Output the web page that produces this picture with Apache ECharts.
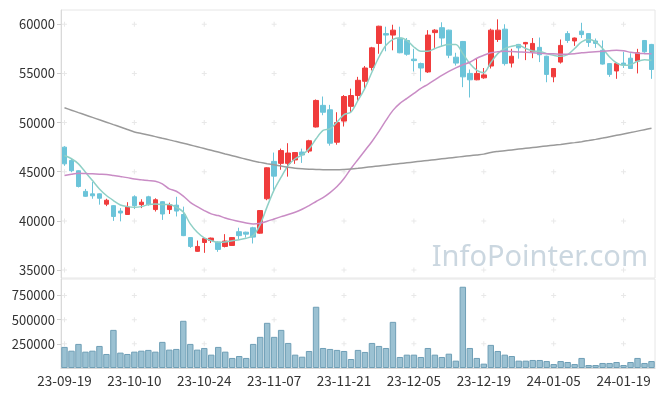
<!DOCTYPE html>
<html><head><meta charset="utf-8">
<script src="https://cdn.jsdelivr.net/npm/echarts@6/dist/echarts.min.js"></script>
<style>html,body{margin:0;padding:0;background:#fff}#c{width:665px;height:396px}</style>
</head><body><div id="c"></div>
<script>
const dates = ["23-09-19","23-09-20","23-09-21","23-09-22","23-09-25","23-09-26","23-09-27",
"23-10-04","23-10-05","23-10-06","23-10-10","23-10-11","23-10-12","23-10-13","23-10-16","23-10-17","23-10-18","23-10-19","23-10-20","23-10-23","23-10-24","23-10-25","23-10-26","23-10-27","23-10-30","23-10-31",
"23-11-01","23-11-02","23-11-03","23-11-06","23-11-07","23-11-08","23-11-09","23-11-10","23-11-13","23-11-14","23-11-15","23-11-16","23-11-17","23-11-20","23-11-21","23-11-22","23-11-23","23-11-24","23-11-27","23-11-28","23-11-29","23-11-30",
"23-12-01","23-12-04","23-12-05","23-12-06","23-12-07","23-12-08","23-12-11","23-12-12","23-12-13","23-12-14","23-12-15","23-12-18","23-12-19","23-12-20","23-12-21","23-12-22","23-12-26","23-12-27","23-12-28",
"24-01-02","24-01-03","24-01-04","24-01-05","24-01-08","24-01-09","24-01-10","24-01-11","24-01-12","24-01-15","24-01-16","24-01-17","24-01-18","24-01-19","24-01-22","24-01-23","24-01-24","24-01-25"];
const opens = [47500,46150,45100,43000,42750,42750,41700,41550,41000,40650,42450,41650,42450,41150,41950,41150,41600,40650,38300,36900,37800,38000,37850,37400,37500,38900,38850,39300,38750,42250,46050,45850,45850,46200,47000,47100,49550,51750,51300,48000,50150,51650,52750,54200,55600,58050,59050,58900,58600,58350,56450,56000,55150,59150,59650,59400,56650,58250,55000,54350,54550,55750,58450,59500,56050,57950,58000,57200,57650,56750,54650,56150,59050,58300,59300,59050,58300,57350,56000,55250,56050,56550,56250,58350,57950];
const closes = [45800,45100,43500,42500,42550,42300,42100,40450,40800,41400,41550,41900,41650,42150,40700,41650,41000,38500,37400,37400,38200,38250,37100,37950,38300,38500,38650,38350,41050,45400,44550,47150,46900,46950,46700,48150,52250,51050,47900,50000,52650,52750,54300,55550,57600,59800,58900,59400,57100,56950,56300,55550,58900,59400,58600,56850,56050,54650,54350,55000,54850,59400,59400,56000,56750,57600,58150,58050,56900,54900,55500,57850,58350,58600,58950,58150,58050,55950,54900,56000,55850,55500,57100,57200,55400];
const highs = [47600,46400,45150,43250,43950,42800,42250,41600,41300,41900,42600,42200,42550,42300,42000,41850,42450,41450,38350,38000,38250,38300,37900,38650,38350,39300,38900,39400,41100,45450,46950,47350,47900,47000,47350,48250,52350,52650,51800,51050,52800,53450,54650,55750,57700,59850,59750,59950,59750,58600,57500,56100,59400,59500,60200,59450,57100,58300,55400,56550,55550,59550,60500,60000,57500,58000,58200,58600,58650,56800,55550,58450,59300,58650,60150,59100,58550,58350,56050,56150,57200,57050,57500,58400,58000];
const lows = [45600,44950,43400,42450,42250,41650,41500,40000,39950,40600,41200,41300,41550,40950,40100,40700,40450,38450,37250,36850,36750,37750,36850,37300,37450,38150,38300,37700,38700,42100,43100,45200,44500,45800,45900,46900,49500,50750,47650,47750,49600,51050,52200,53450,55300,57000,57250,57350,57050,56800,55200,54200,55050,57600,57700,56550,55800,53600,52550,54300,54450,55500,58200,55800,55600,56500,56350,56550,56150,54100,54100,56000,58100,57800,58600,57700,57600,55900,54650,54450,55550,55450,55000,57100,54450];
const ma5 = [46650,46320,45800,44950,44100,43250,42580,42070,41620,41450,41380,41450,41660,41720,41660,41660,41380,40900,39690,38840,38270,37990,37820,37850,37990,38090,38230,38500,39620,41450,43150,44440,45630,46320,46700,47330,48350,49200,49370,50050,50800,51070,52250,53510,55140,56670,57860,58470,58600,58370,57690,57250,57250,57530,57790,57930,57930,57010,56000,55310,55080,56100,57010,57530,57760,57860,57530,57280,57250,57010,56840,56740,56910,57530,58200,58440,58200,57530,56670,56060,55820,55890,56230,56400,56330];
const ma20 = [44610,44750,44850,44820,44790,44750,44720,44620,44510,44400,44270,44180,44100,44030,43770,43260,43010,42520,41890,41450,41050,40710,40540,40300,40100,39930,39790,39690,39750,39960,40200,40430,40640,40880,41180,41560,41970,42370,42880,43490,44310,45330,46250,47160,48080,49100,50220,51240,51950,52460,52970,53480,53890,54340,54800,55210,55570,55880,56130,56540,56840,57100,57200,57250,57220,57180,57150,57100,57050,57010,56990,56940,56940,56990,57100,57150,57200,57250,57300,57350,57300,57150,57050,57010,56990];
const ma60 = [51500,51260,51010,50770,50530,50280,50040,49790,49550,49300,49050,48890,48730,48570,48400,48240,48080,47900,47720,47540,47360,47180,47000,46810,46630,46450,46270,46090,45950,45820,45700,45580,45460,45360,45300,45260,45230,45210,45200,45200,45230,45280,45350,45430,45510,45590,45670,45750,45830,45910,45990,46070,46150,46230,46310,46390,46470,46550,46630,46710,46790,46960,47060,47140,47220,47300,47380,47460,47540,47620,47700,47780,47870,47960,48060,48170,48290,48420,48560,48700,48840,48980,49130,49280,49430];
const volumes = [218000,179000,249000,169000,179000,228000,145000,394000,159000,145000,169000,179000,187000,169000,270000,190000,197000,488000,249000,190000,207000,138000,218000,169000,104000,124000,104000,249000,322000,467000,322000,394000,259000,138000,117000,176000,633000,207000,197000,187000,176000,93000,187000,166000,259000,228000,207000,477000,114000,138000,138000,114000,207000,138000,114000,148000,76000,840000,207000,104000,45000,239000,176000,138000,124000,76000,76000,83000,83000,72000,41000,72000,62000,41000,104000,31000,31000,52000,52000,62000,31000,62000,104000,52000,72000];
const priceTicks = [35000,40000,45000,50000,55000,60000];
const volumeTicks = [250000,500000,750000];
const labelIdx = [0,10,20,30,40,50,60,70,80];

const candles = dates.map((d,i)=>[opens[i],closes[i],lows[i],highs[i]]);
const crossPath = 'path://M4,0H6V4H10V6H6V10H4V6H0V4H4Z';
const priceCross = [], volCross = [];
labelIdx.forEach(i=>{ priceTicks.forEach(v=>priceCross.push([dates[i],v])); volumeTicks.forEach(v=>volCross.push([dates[i],v])); });

const FONT = '"Noto Sans CJK KR", "Noto Sans", sans-serif';
const plain = v => String(v);
const chart = echarts.init(document.getElementById('c'), null, {renderer:'canvas'});
chart.setOption({
  animation:false,
  backgroundColor:'#fff',
  graphic:[{type:'text', right:17, top:243, z:-1, silent:true,
    style:{text:'InfoPointer.com', font:'29px "Noto Sans", sans-serif', fill:'#cbd7e0'}}],
  grid:[
    {left:61, right:10, top:10, height:268, show:true, borderColor:'#e6e6e6', borderWidth:1},
    {left:61, right:10, top:279, height:89, show:true, borderColor:'#e6e6e6', borderWidth:1}
  ],
  xAxis:[
    {type:'category', data:dates, gridIndex:0, boundaryGap:true,
     axisLine:{show:false}, axisTick:{show:false}, axisLabel:{show:false}, splitLine:{show:false}},
    {type:'category', data:dates, gridIndex:1, boundaryGap:true,
     axisLine:{show:true, lineStyle:{color:'#d6d6d6'}}, axisTick:{show:false},
     axisLabel:{interval:9, color:'#333', fontSize:13.5, fontFamily:FONT, margin:6}, splitLine:{show:false}}
  ],
  yAxis:[
    {type:'value', gridIndex:0, min:34190, max:61450, scale:true,
     axisLine:{show:true, lineStyle:{color:'#d9d9d9'}},
     axisTick:{show:true, length:4, lineStyle:{color:'#cfcfcf'}, customValues:priceTicks},
     axisLabel:{color:'#333', fontSize:13, fontFamily:FONT, margin:6, customValues:priceTicks, formatter:plain},
     splitLine:{show:false}},
    {type:'value', gridIndex:1, min:0, max:920000,
     axisLine:{show:true, lineStyle:{color:'#d9d9d9'}},
     axisTick:{show:true, length:4, lineStyle:{color:'#cfcfcf'}, customValues:volumeTicks},
     axisLabel:{color:'#333', fontSize:13, fontFamily:FONT, margin:6, customValues:volumeTicks, formatter:plain},
     splitLine:{show:false}}
  ],
  series:[
    {type:'scatter', xAxisIndex:0, yAxisIndex:0, data:priceCross, symbol:crossPath, symbolSize:5, silent:true, z:1,
     itemStyle:{color:'#e2e2e2'}},
    {type:'scatter', xAxisIndex:1, yAxisIndex:1, data:volCross, symbol:crossPath, symbolSize:5, silent:true, z:1,
     itemStyle:{color:'#e2e2e2'}},
    {type:'candlestick', xAxisIndex:0, yAxisIndex:0, data:candles, barWidth:5, z:3,
     itemStyle:{color:'#f03c3c', color0:'#6cc4d9', borderColor:'#f03c3c', borderColor0:'#6cc4d9', borderWidth:1}},
    {type:'line', xAxisIndex:0, yAxisIndex:0, data:ma5, showSymbol:false, smooth:0.3, z:4,
     lineStyle:{color:'#8fd0c6', width:1.5}},
    {type:'line', xAxisIndex:0, yAxisIndex:0, data:ma20, showSymbol:false, smooth:0.3, z:4,
     lineStyle:{color:'#c98cc5', width:1.5}},
    {type:'line', xAxisIndex:0, yAxisIndex:0, data:ma60, showSymbol:false, smooth:0.3, z:4,
     lineStyle:{color:'#9a9a9a', width:1.5}},
    {type:'bar', xAxisIndex:1, yAxisIndex:1, data:volumes, barCategoryGap:'8%', z:3,
     itemStyle:{color:'#9bc1d2', borderColor:'#6f9fb6', borderWidth:1}}
  ]
});
</script></body></html>
